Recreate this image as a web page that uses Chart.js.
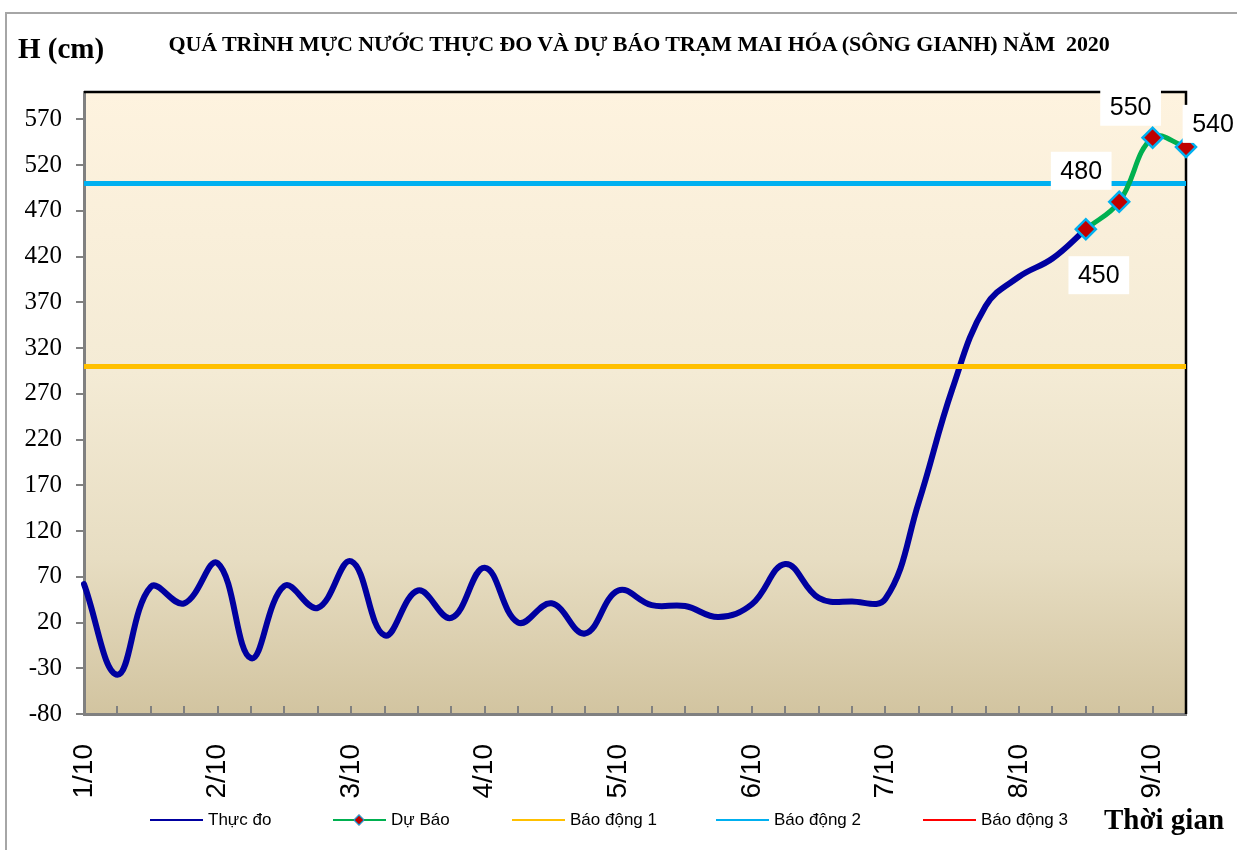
<!DOCTYPE html>
<html>
<head>
<meta charset="utf-8">
<script src="https://cdn.jsdelivr.net/npm/chart.js@4/dist/chart.umd.min.js"></script>
<style>
  html, body { margin: 0; padding: 0; background: #ffffff; }
  #wrap { position: relative; width: 1237px; height: 850px; overflow: hidden; background: #fff; }
  #frame { position: absolute; left: 5px; top: 12px; width: 1300px; height: 900px;
           border-left: 2px solid #a6a6a6; border-top: 2px solid #a6a6a6; box-sizing: border-box; }
  #chart { position: absolute; left: 0; top: 0; }
  .txt { position: absolute; white-space: nowrap; color: #000; }
  #title { left: 639px; top: 31px; transform: translateX(-50%);
           font: bold 22px "Liberation Serif", "Times New Roman", serif; letter-spacing: -0.1px; }
  #yunit { left: 18px; top: 32px; font: bold 29px "Liberation Serif", "Times New Roman", serif; }
  #xunit { left: 1104px; top: 803px; font: bold 29px "Liberation Serif", "Times New Roman", serif; }
  .leg { position: absolute; top: 808px; height: 24px; font: 17px "Liberation Sans", Arial, sans-serif; color:#000; }
  .leg .ln { position: absolute; left: 0; top: 11px; width: 53px; height: 2px; }
  .leg .mk { position: absolute; left: 22px; top: 8px; width: 6px; height: 6px; transform: rotate(45deg);
             background: #C00000; border: 1px solid #00B0F0; }
  .leg .lb { position: absolute; left: 58px; top: 2px; white-space: nowrap; }
</style>
</head>
<body>
<div id="wrap">
  <div id="frame"></div>
  <canvas id="chart" width="1237" height="850"></canvas>
  <div class="txt" id="yunit">H (cm)</div>
  <div class="txt" id="title">QUÁ TRÌNH MỰC NƯỚC THỰC ĐO VÀ DỰ BÁO TRẠM MAI HÓA (SÔNG GIANH) NĂM&nbsp; 2020</div>
  <div class="txt" id="xunit">Thời gian</div>
  <div id="legend"></div>
</div>
<script>
// ---- data ----
const categories = [
  "1h 1/10","7h 1/10","13h 1/10","19h 1/10",
  "1h 2/10","7h 2/10","13h 2/10","19h 2/10",
  "1h 3/10","7h 3/10","13h 3/10","19h 3/10",
  "1h 4/10","7h 4/10","13h 4/10","19h 4/10",
  "1h 5/10","7h 5/10","13h 5/10","19h 5/10",
  "1h 6/10","7h 6/10","13h 6/10","19h 6/10",
  "1h 7/10","7h 7/10","13h 7/10","19h 7/10",
  "1h 8/10","7h 8/10","13h 8/10","19h 8/10",
  "1h 9/10","7h 9/10"
];
const dayLabels = ["1/10","2/10","3/10","4/10","5/10","6/10","7/10","8/10","9/10"];
const thucDo = [
  62, -37, 59, 41, 85, -19, 60, 36,
  87, 6, 55, 25, 80, 20, 41, 8,
  55, 39, 38, 26, 40, 84, 47, 43,
  46, 152, 275, 366, 398, 418, 450,
  null, null, null
];
const duBao = [
  null, null, null, null, null, null, null, null,
  null, null, null, null, null, null, null, null,
  null, null, null, null, null, null, null, null,
  null, null, null, null, null, null, 450, 480, 550, 540
];
const baoDong1 = 300;
const baoDong2 = 500;
const baoDong3 = 650;
const yTicks = [-80, -30, 20, 70, 120, 170, 220, 270, 320, 370, 420, 470, 520, 570];
const yMin = -80, yMax = 600;

// ---- styles ----
const COLORS = { thucDo: '#0000A0', duBao: '#00B050', bd1: '#FFC000', bd2: '#00B0F0', bd3: '#FF0000',
                 marker: '#C00000', markerBorder: '#00B0F0' };
const labelOffsets = { 30: [13, 46], 31: [-38, -31], 32: [-22, -31], 33: [27, -23] };

function flatLine(level) {
  return [{ x: categories[0], y: level }, { x: categories[categories.length - 1], y: level }];
}

const bgPlugin = {
  id: 'bg',
  beforeDraw(chart) {
    const { ctx, chartArea: a } = chart;
    const g = ctx.createLinearGradient(0, a.top, 0, a.bottom);
    g.addColorStop(0, '#FEF3DF');
    g.addColorStop(0.45, '#F4EBD5');
    g.addColorStop(0.75, '#E7DDC2');
    g.addColorStop(1, '#D2C4A0');
    ctx.save();
    ctx.fillStyle = g;
    ctx.fillRect(a.left, a.top, a.right - a.left, a.bottom - a.top);
    ctx.restore();
  },
  beforeDatasetsDraw(chart) {
    const { ctx, chartArea: a } = chart;
    const xs = chart.scales.x;
    ctx.save();
    ctx.strokeStyle = '#808080';
    ctx.lineWidth = 2;
    for (let i = 1; i < categories.length - 1; i++) {
      const px = Math.round(xs.getPixelForValue(i));
      ctx.beginPath();
      ctx.moveTo(px, a.bottom);
      ctx.lineTo(px, a.bottom - 8);
      ctx.stroke();
    }
    // top and right plot-area border
    ctx.strokeStyle = '#000000';
    ctx.lineWidth = 2.5;
    ctx.beginPath();
    ctx.moveTo(a.left, a.top);
    ctx.lineTo(a.right, a.top);
    ctx.lineTo(a.right, a.bottom);
    ctx.stroke();
    ctx.restore();
  },
  afterDraw(chart) {
    const { ctx } = chart;
    ctx.save();
    // data labels for forecast points
    const meta = chart.getDatasetMeta(1);
    ctx.font = '25px "Liberation Sans", Arial, sans-serif';
    ctx.textAlign = 'center';
    ctx.textBaseline = 'middle';
    duBao.forEach((v, i) => {
      if (v === null || !labelOffsets[i]) return;
      const pt = meta.data[i];
      const [dx, dy] = labelOffsets[i];
      const cx = pt.x + dx, cy = pt.y + dy;
      const txt = String(v);
      const w = ctx.measureText(txt).width + 19, h = 38;
      ctx.fillStyle = '#ffffff';
      ctx.fillRect(cx - w / 2, cy - h / 2, w, h);
      ctx.fillStyle = '#000000';
      ctx.fillText(txt, cx, cy + 1);
    });
    ctx.restore();
  }
};

const ctx = document.getElementById('chart').getContext('2d');
const chart = new Chart(ctx, {
  type: 'line',
  data: {
    labels: categories,
    datasets: [
      { label: 'Thực đo', data: thucDo, borderColor: COLORS.thucDo, backgroundColor: COLORS.thucDo,
        borderWidth: 6, pointRadius: 0, tension: 0.4, order: 5, borderCapStyle: 'round' },
      { label: 'Dự Báo', data: duBao, borderColor: COLORS.duBao, backgroundColor: COLORS.marker,
        borderWidth: 5, pointStyle: 'rectRot', pointRadius: 10, pointBackgroundColor: COLORS.marker,
        pointBorderColor: COLORS.markerBorder, pointBorderWidth: 2.5, tension: 0.4, order: 0, clip: false },
      { label: 'Báo động 1', data: flatLine(baoDong1), borderColor: COLORS.bd1, borderWidth: 5,
        pointRadius: 0, order: 3 },
      { label: 'Báo động 2', data: flatLine(baoDong2), borderColor: COLORS.bd2, borderWidth: 5,
        pointRadius: 0, order: 2 },
      { label: 'Báo động 3', data: flatLine(baoDong3), borderColor: COLORS.bd3, borderWidth: 5,
        pointRadius: 0, order: 1 }
    ]
  },
  options: {
    responsive: false,
    animation: false,
    events: [],
    layout: { padding: { top: 92, right: 51, bottom: 0, left: 0 } },
    plugins: { legend: { display: false }, title: { display: false }, tooltip: { enabled: false } },
    scales: {
      x: {
        type: 'category',
        offset: false,
        grid: { display: true, drawOnChartArea: false, drawTicks: false },
        border: { display: true, color: '#808080', width: 3 },
        ticks: {
          autoSkip: false, maxRotation: 90, minRotation: 90, padding: 30,
          color: '#000', font: { family: '"Liberation Sans", Arial, sans-serif', size: 28 },
          callback: (v, i) => (i % 4 === 0 ? dayLabels[i / 4] : '')
        },
        afterFit: (s) => { s.height = 136; s.paddingLeft = 0; s.paddingRight = 0; }
      },
      y: {
        min: yMin, max: yMax,
        afterBuildTicks: (s) => { s.ticks = yTicks.map(v => ({ value: v })); },
        grid: { display: true, drawOnChartArea: false, drawTicks: true, tickLength: 8, color: '#808080', lineWidth: 2 },
        border: { display: true, color: '#808080', width: 3 },
        ticks: { color: '#000', padding: 14, font: { family: '"Liberation Serif", "Times New Roman", serif', size: 25 } },
        afterFit: (s) => { s.width = 84; s.paddingTop = 0; s.paddingBottom = 0; }
      }
    }
  },
  plugins: [bgPlugin]
});

// ---- HTML legend ----
const legendItems = [
  { text: 'Thực đo', color: COLORS.thucDo, left: 150, marker: false },
  { text: 'Dự Báo', color: COLORS.duBao, left: 333, marker: true },
  { text: 'Báo động 1', color: COLORS.bd1, left: 512, marker: false },
  { text: 'Báo động 2', color: COLORS.bd2, left: 716, marker: false },
  { text: 'Báo động 3', color: COLORS.bd3, left: 923, marker: false }
];
const legendEl = document.getElementById('legend');
legendItems.forEach(it => {
  const d = document.createElement('div');
  d.className = 'leg';
  d.style.left = it.left + 'px';
  d.innerHTML = '<div class="ln" style="background:' + it.color + '"></div>' +
    (it.marker ? '<div class="mk"></div>' : '') +
    '<div class="lb">' + it.text + '</div>';
  legendEl.appendChild(d);
});
</script>
</body>
</html>
